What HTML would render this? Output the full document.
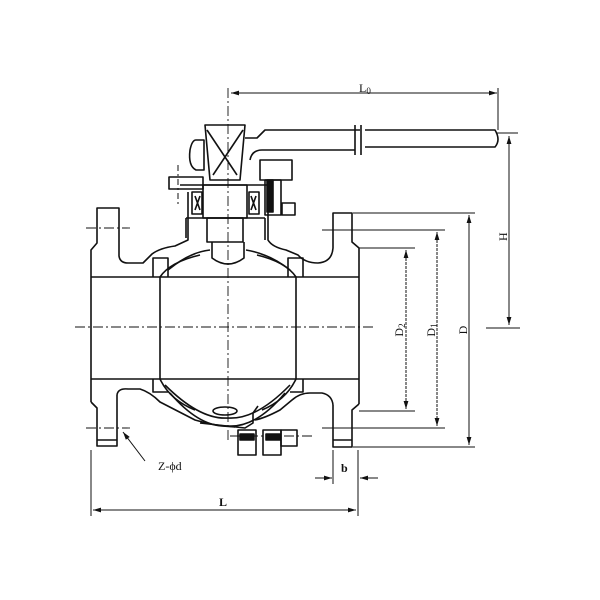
<!DOCTYPE html>
<html><head><meta charset="utf-8"><style>
html,body{margin:0;padding:0;background:#fff}
svg{display:block}
text{font-family:"Liberation Serif",serif;fill:#111}
</style></head><body>
<svg width="600" height="600" viewBox="0 0 600 600" xmlns="http://www.w3.org/2000/svg">
<defs>
<marker id="a" viewBox="0 0 10 6" refX="10" refY="3" markerWidth="8" markerHeight="5" orient="auto-start-reverse"><path d="M0,0 L10,3 L0,6 z" fill="#111"/></marker>
</defs>
<g fill="none" stroke="#111" stroke-width="1.6" stroke-linejoin="round">
<!-- left flange -->
<path d="M91,402 V250 L97,243 V208 H119 V256 Q120,263 128,263 H143 L152,254 Q160,248 175,246 L188,240 V192"/>
<path d="M91,402 L97,408 V446 H117 V395"/>
<path d="M97,440 H117"/>
<path d="M117,395 Q118,388 128,389 H140 Q150,392 160,402 L195,420 Q215,426 235,427"/>
<!-- right flange -->
<path d="M359,404 V248 L352,242 V213 H333 V248 Q332,262 318,263 Q305,263 298,255 L286,250 Q272,247 268,240 V192"/>
<path d="M359,404 L352,410 V447 H333 V405"/>
<path d="M333,440 H352"/>
<path d="M333,405 Q332,395 322,393 H310 Q300,393 292,400 L280,410 Q265,418 255,420"/>
<!-- pipe lines -->
<line x1="91" y1="277" x2="359" y2="277"/>
<line x1="91" y1="379" x2="359" y2="379"/>
<!-- ball / seats -->
<path d="M153,277 V258 H168 V277"/>
<path d="M153,379 V392 H168"/>
<path d="M160,277 V379 Q170,400 195,410"/>
<path d="M303,277 V258 H288 V277"/>
<path d="M303,379 V392 H290"/>
<path d="M296,277 V379 Q286,400 262,410"/>
<path d="M160,277 Q170,262 200,255 M257,255 Q286,262 296,277"/>
<path d="M168,270 Q190,252 210,250 M246,250 Q270,254 290,270"/>
<path d="M165,385 Q200,420 228,418 Q256,420 290,385"/>
<path d="M170,393 Q200,428 228,426 Q256,428 285,393"/>
<ellipse cx="225" cy="411" rx="12" ry="4"/>
<path d="M200,423 L245,428 L253,423 V413 L258,406"/>
<!-- stem / bonnet -->
<rect x="203" y="185" width="44" height="33"/>
<rect x="207" y="218" width="36" height="24"/>
<path d="M212,242 V258 Q228,270 244,258 V242"/>
<rect x="192" y="192" width="10" height="22"/>
<rect x="249" y="192" width="10" height="22"/>
<path d="M195,196 L200,210 M200,196 L195,210 M251,196 L256,210 M256,196 L251,210"/>
<path d="M180,185 H270 M186,218 H265 M186,218 V238 M265,218 V240"/>
<path d="M205,125 H245 L240,180 H210 Z"/>
<path d="M207,130 L237,175 M243,130 L213,175"/>
<path d="M196,140 H204 V170 H196 Q188,166 190,150 Q192,140 196,140 Z"/>
<path d="M245,138 H257 L265,130 H360 M262,150 Q252,150 250,160 M262,150 H355"/>
<path d="M365,130 H495 Q501,140 495,147 H365"/>
<path d="M355,125 V155 M361,125 V155"/>
<rect x="169" y="177" width="34" height="12"/>
<line x1="178" y1="165" x2="178" y2="205" stroke-width="1" stroke-dasharray="6,3,2,3"/>
<rect x="260" y="160" width="32" height="20"/>
<rect x="265" y="180" width="16" height="35"/>
<rect x="282" y="203" width="13" height="12"/>
<rect x="267" y="180" width="6" height="32" fill="#111"/>
<!-- bolt bottom -->
<rect x="238" y="430" width="18" height="25"/>
<rect x="263" y="430" width="18" height="25"/>
<rect x="281" y="430" width="16" height="16"/>
<rect x="240" y="434" width="14" height="6" fill="#111"/>
<rect x="266" y="434" width="14" height="6" fill="#111"/>
</g>
<!-- centerlines -->
<g stroke="#111" stroke-width="0.9" fill="none" stroke-dasharray="10,3,2,3">
<line x1="228" y1="88" x2="228" y2="440"/>
<line x1="75" y1="327" x2="375" y2="327"/>
<line x1="86" y1="228" x2="130" y2="228"/>
<line x1="86" y1="428" x2="130" y2="428"/>
<line x1="230" y1="436" x2="312" y2="436"/>
</g>
<!-- dimension lines -->
<g stroke="#111" stroke-width="1" fill="none">
<line x1="231" y1="93" x2="497" y2="93" marker-start="url(#a)" marker-end="url(#a)"/>
<line x1="498" y1="88" x2="498" y2="130"/>
<line x1="497" y1="133" x2="518" y2="133"/>
<line x1="486" y1="328" x2="520" y2="328"/>
<line x1="509" y1="136" x2="509" y2="325" marker-start="url(#a)" marker-end="url(#a)"/>
<line x1="353" y1="213" x2="475" y2="213"/>
<line x1="322" y1="230" x2="445" y2="230"/>
<line x1="359" y1="248" x2="415" y2="248"/>
<line x1="359" y1="411" x2="415" y2="411"/>
<line x1="322" y1="428" x2="445" y2="428"/>
<line x1="353" y1="447" x2="475" y2="447"/>
<line x1="469" y1="215" x2="469" y2="445" marker-start="url(#a)" marker-end="url(#a)"/>
<line x1="437" y1="232" x2="437" y2="426" marker-start="url(#a)" marker-end="url(#a)" stroke-dasharray="3,1"/>
<line x1="406" y1="250" x2="406" y2="409" marker-start="url(#a)" marker-end="url(#a)" stroke-dasharray="3,1"/>
<line x1="91" y1="450" x2="91" y2="516"/>
<line x1="358" y1="450" x2="358" y2="516"/>
<line x1="333" y1="450" x2="333" y2="484"/>
<line x1="93" y1="510" x2="356" y2="510" marker-start="url(#a)" marker-end="url(#a)"/>
<line x1="315" y1="478" x2="332" y2="478" marker-end="url(#a)"/>
<line x1="378" y1="478" x2="360" y2="478" marker-end="url(#a)"/>
<line x1="145" y1="461" x2="123" y2="432" marker-end="url(#a)"/>
</g>
<g font-size="12">
<text x="359" y="92">L<tspan font-size="9" dy="2">0</tspan></text>
<text x="496" y="238" transform="rotate(-90 503 234)">H</text>
<text x="462" y="335" transform="rotate(-90 462 330)" text-anchor="middle">D</text>
<text x="430" y="335" transform="rotate(-90 430 330)" text-anchor="middle">D<tspan font-size="9" dy="2">1</tspan></text>
<text x="398" y="335" transform="rotate(-90 398 330)" text-anchor="middle">D<tspan font-size="9" dy="2">2</tspan></text>
<text x="219" y="506" font-weight="bold">L</text>
<text x="341" y="472" font-weight="bold">b</text>
<text x="158" y="470" font-size="12" font-family="Liberation Sans,sans-serif">Z-ϕd</text>
</g>
</svg>
</body></html>
